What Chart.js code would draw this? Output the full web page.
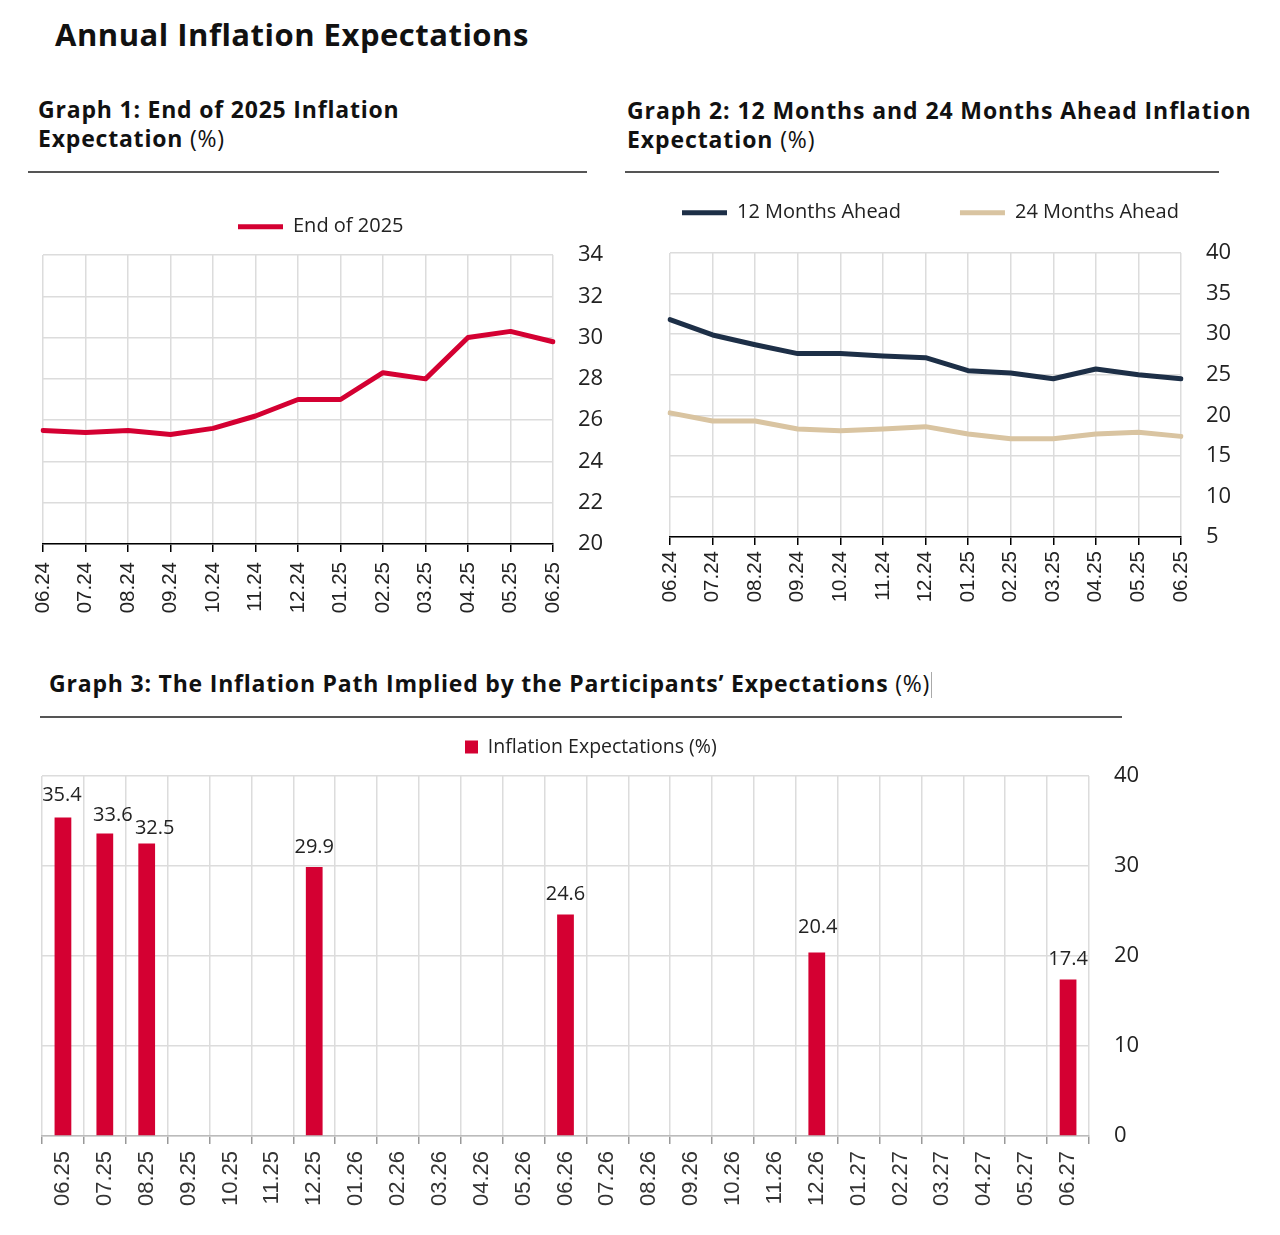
<!DOCTYPE html>
<html><head><meta charset="utf-8">
<script src="https://cdn.jsdelivr.net/npm/chart.js@4.4.1/dist/chart.umd.min.js"></script>
<style>
body{margin:0;background:#fff;width:1280px;height:1235px;position:relative;overflow:hidden;font-family:"Open Sans",sans-serif;color:#111}
.t{position:absolute;white-space:nowrap;font-weight:700;letter-spacing:0.8px}
.t span{font-weight:400}
.cur{display:inline-block;width:1px;height:26px;background:#aaa;vertical-align:-6px;margin-left:1px}
.rule{position:absolute;height:1.5px;background:#555}
canvas{position:absolute}
</style></head><body>
<div class="t" style="left:55px;top:16px;font-size:31px;line-height:36px;letter-spacing:0.5px">Annual Inflation Expectations</div>
<div class="t" style="left:38px;top:95px;font-size:23px;line-height:29px">Graph 1: End of 2025 Inflation<br>Expectation <span>(%)</span></div>
<div class="rule" style="left:28px;top:171px;width:559px"></div>
<div class="t" style="left:627px;top:96px;font-size:23px;line-height:29px;letter-spacing:0.9px">Graph 2: 12 Months and 24 Months Ahead Inflation<br>Expectation <span>(%)</span></div>
<div class="rule" style="left:625px;top:171px;width:594px"></div>
<div class="t" style="left:49px;top:669px;font-size:23px;line-height:29px">Graph 3: The Inflation Path Implied by the Participants’ Expectations <span>(%)</span><i class="cur"></i></div>
<div class="rule" style="left:40px;top:716px;width:1082px"></div>
<canvas id="c1" width="620" height="450" style="left:0px;top:180px"></canvas>
<canvas id="c2" width="640" height="500" style="left:620px;top:130px"></canvas>
<canvas id="c3" width="1170" height="530" style="left:0px;top:700px"></canvas>
<script>
// ---- data ----
const months1 = ['06.24','07.24','08.24','09.24','10.24','11.24','12.24','01.25','02.25','03.25','04.25','05.25','06.25'];
const end2025 = [25.5, 25.4, 25.5, 25.3, 25.6, 26.2, 27.0, 27.0, 28.3, 28.0, 30.0, 30.3, 29.8];
const months2 = ['06.24','07.24','08.24','09.24','10.24','11.24','12.24','01.25','02.25','03.25','04.25','05.25','06.25'];
const ahead12 = [31.8, 29.9, 28.7, 27.6, 27.6, 27.3, 27.1, 25.5, 25.2, 24.5, 25.7, 25.0, 24.5];
const ahead24 = [20.3, 19.3, 19.3, 18.3, 18.1, 18.3, 18.6, 17.7, 17.1, 17.1, 17.7, 17.9, 17.4];
const months3 = ['06.25','07.25','08.25','09.25','10.25','11.25','12.25','01.26','02.26','03.26','04.26','05.26','06.26','07.26','08.26','09.26','10.26','11.26','12.26','01.27','02.27','03.27','04.27','05.27','06.27'];
const pathValues = [35.4, 33.6, 32.5, null, null, null, 29.9, null, null, null, null, null, 24.6, null, null, null, null, null, 20.4, null, null, null, null, null, 17.4];
const yAxis1 = [20, 34, 2];
const yAxis2 = [5, 40, 5];
const yAxis3 = [0, 40, 10];

// ---- style ----
const RED = '#d40032', NAVY = '#1d2f47', TAN = '#d9c4a1', GRID = '#dcdcdc', TXT = '#222';
Chart.defaults.font.family = '"Open Sans", sans-serif';
Chart.defaults.color = TXT;

const legendTweak = {
  id: 'legendTweak',
  beforeInit(chart, args, opts) {
    const lg = chart.legend; const orig = lg.fit;
    lg.fit = function () { orig.call(this); this.height = opts.h; };
  },
  afterLayout(chart, args, opts) {
    const lg = chart.legend;
    lg.left = opts.x - lg.options.labels.padding;
  }
};
const barLabels = {
  id: 'barLabels',
  afterDatasetsDraw(chart, args, opts) {
    if (!opts || !opts.on) return;
    const ctx = chart.ctx, meta = chart.getDatasetMeta(0), data = chart.data.datasets[0].data;
    const nudge = opts.nudge || {};
    ctx.save();
    ctx.font = opts.font; ctx.fillStyle = opts.color; ctx.textAlign = 'center'; ctx.textBaseline = 'middle';
    meta.data.forEach((el, i) => {
      if (data[i] == null) return;
      const n = nudge[i] || [0, 0];
      ctx.fillText(data[i].toFixed(1), el.x + n[0], el.y - opts.offset + n[1]);
    });
    ctx.restore();
  }
};

const XFONT = {family: '"Liberation Sans", Arial, sans-serif', size: 20.5};
function xScale(h, pad, opt) {
  return Object.assign({
    grid: {color: GRID, lineWidth: 1.5, tickColor: '#000', tickLength: 8},
    border: {display: true, color: '#000', width: 1.5},
    ticks: {autoSkip: false, minRotation: 90, maxRotation: 90, padding: pad, color: TXT, font: XFONT},
    afterFit(s) { s.height = h; }
  }, opt || {});
}
function yScale(r, w) {
  return {
    position: 'right', min: r[0], max: r[1],
    ticks: {stepSize: r[2], padding: 25, color: TXT, font: {size: 22}},
    grid: {color: GRID, lineWidth: 1.5, drawTicks: false},
    border: {display: false},
    afterFit(s) { s.width = w; }
  };
}
function lineLegend(p) {
  return {display: true, position: 'top', align: 'start',
    labels: {usePointStyle: true, pointStyle: 'line', pointStyleWidth: 45, padding: p, color: TXT, font: {size: 20}}};
}

// ---- Graph 1 ----
new Chart(document.getElementById('c1'), {
  type: 'line',
  data: {labels: months1, datasets: [{label: 'End of 2025', data: end2025, borderColor: RED, backgroundColor: RED,
    borderWidth: 5, pointRadius: 0, borderCapStyle: 'round', borderJoinStyle: 'round', tension: 0}]},
  options: {
    responsive: false, animation: false, devicePixelRatio: 1,
    layout: {padding: {left: 43, top: 26.7, right: 0, bottom: 0}},
    plugins: {legend: lineLegend(10), tooltip: {enabled: false}, legendTweak: {x: 238, h: 48.3}},
    scales: {x: xScale(86, 10), y: yScale(yAxis1, 67)}
  },
  plugins: [legendTweak]
});

// ---- Graph 2 ----
new Chart(document.getElementById('c2'), {
  type: 'line',
  data: {labels: months2, datasets: [
    {label: '12 Months Ahead', data: ahead12, borderColor: NAVY, backgroundColor: NAVY, borderWidth: 5, pointRadius: 0, borderCapStyle: 'round', borderJoinStyle: 'round'},
    {label: '24 Months Ahead', data: ahead24, borderColor: TAN, backgroundColor: TAN, borderWidth: 5, pointRadius: 0, borderCapStyle: 'round', borderJoinStyle: 'round'}
  ]},
  options: {
    responsive: false, animation: false, devicePixelRatio: 1,
    layout: {padding: {left: 50, top: 13.7, right: 0, bottom: 0}},
    plugins: {legend: lineLegend(59), tooltip: {enabled: false}, legendTweak: {x: 682 - 620, h: 109.3}},
    scales: {x: xScale(93, 6), y: yScale(yAxis2, 79)}
  },
  plugins: [legendTweak]
});

// ---- Graph 3 ----
new Chart(document.getElementById('c3'), {
  type: 'bar',
  data: {labels: months3, datasets: [{label: 'Inflation Expectations (%)', data: pathValues, backgroundColor: RED,
    barPercentage: 0.4, categoryPercentage: 1}]},
  options: {
    responsive: false, animation: false, devicePixelRatio: 1,
    layout: {padding: {left: 42, top: 27.25, right: 0, bottom: 0}},
    plugins: {
      legend: {display: true, position: 'top', align: 'start',
        labels: {boxWidth: 13, boxHeight: 13, padding: 10, color: TXT, font: {size: 19.5}}},
      tooltip: {enabled: false},
      legendTweak: {x: 465, h: 48.75},
      barLabels: {on: true, font: '20px "Open Sans", sans-serif', color: TXT, offset: 20,
        nudge: {0: [-1, -2], 1: [8, 2], 2: [8, 5], 18: [1, -5]}}
    },
    scales: {
      x: xScale(94, 7, {
        grid: {color: GRID, lineWidth: 1.5, tickColor: '#999', tickLength: 8, offset: true},
        border: {display: true, color: '#bbb', width: 1.5},
        ticks: {autoSkip: false, minRotation: 90, maxRotation: 90, padding: 7, color: '#333',
          font: {family: '"Liberation Sans", Arial, sans-serif', size: 22}}
      }),
      y: yScale(yAxis3, 81)
    }
  },
  plugins: [legendTweak, barLabels]
});
</script>
</body></html>
